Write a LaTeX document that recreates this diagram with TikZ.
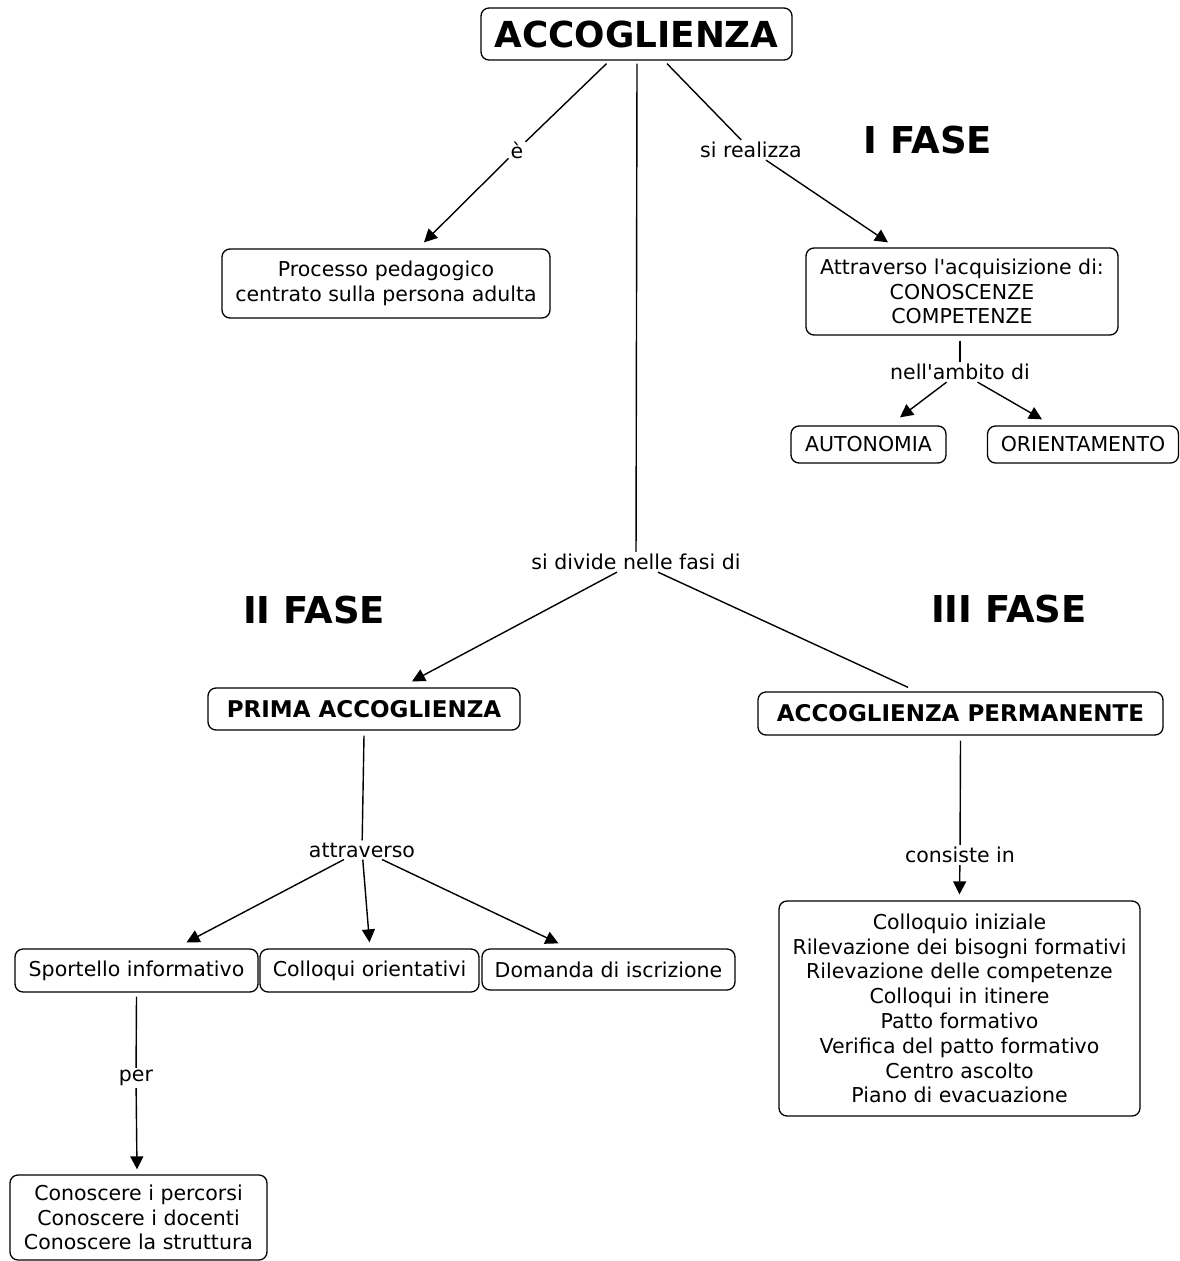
\documentclass[tikz,border=0pt]{standalone}
\usepackage{fontspec}
\setmainfont{DejaVu Sans}
\usetikzlibrary{arrows.meta,calc}
\newcommand\fsreg{\fontsize{20.5}{24.8}\selectfont}
\newcommand\fsbox{\fontsize{23}{27}\selectfont\bfseries}
\newcommand\fstitle{\fontsize{35.8}{40}\selectfont\bfseries}
\newcommand\fsphase{\fontsize{37}{40}\selectfont\bfseries}
\begin{document}
\begin{tikzpicture}[x=1pt,y=-1pt,
  cbox/.style={draw, rounded corners=8pt, line width=1.3pt, inner sep=0pt, align=center, font=\fsreg},
  lbl/.style={inner sep=2pt, font=\fsreg, align=center},
  phase/.style={inner sep=0pt, font=\fsphase},
  conn/.style={line width=1.4pt},
  arr/.style={conn, -{Triangle[length=13pt,width=13pt]}}]
\useasboundingbox (0,0) rectangle (1180,1261);
% boxes
\node[cbox, font=\fstitle, minimum width=311, minimum height=52] (title) at (636.5,34) {ACCOGLIENZA};
\node[cbox, minimum width=328, minimum height=69] (proc) at (386,283.5) {Processo pedagogico\\centrato sulla persona adulta};
\node[cbox, minimum width=312, minimum height=87] (attr) at (962,291.5) {Attraverso l\textquotesingle acquisizione di:\\CONOSCENZE\\COMPETENZE};
\node[cbox, minimum width=155, minimum height=37] (auto) at (868.5,444.5) {AUTONOMIA};
\node[cbox, minimum width=191, minimum height=37] (orient) at (1083,444.5) {ORIENTAMENTO};
\node[cbox, font=\fsbox, minimum width=312, minimum height=42] (prima) at (364,709) {PRIMA ACCOGLIENZA};
\node[cbox, font=\fsbox, minimum width=405, minimum height=43] (perm) at (960.5,713.5) {ACCOGLIENZA PERMANENTE};
\node[cbox, minimum width=243, minimum height=43] (sport) at (136.5,970.5) {Sportello informativo};
\node[cbox, minimum width=219, minimum height=43] (coll) at (369.5,970.5) {Colloqui orientativi};
\node[cbox, minimum width=253, minimum height=41] (dom) at (608.5,969.5) {Domanda di iscrizione};
\node[cbox, minimum width=257, minimum height=85] (conosc) at (138.5,1217.5) {Conoscere i percorsi\\Conoscere i docenti\\Conoscere la struttura};
\node[cbox, minimum width=361, minimum height=215] (big) at (959.5,1008.5) {Colloquio iniziale\\Rilevazione dei bisogni formativi\\Rilevazione delle competenze\\Colloqui in itinere\\Patto formativo\\Verifica del patto formativo\\Centro ascolto\\Piano di evacuazione};
% phases
\node[phase] (f1) at (928,140) {I FASE};
\node[phase] (f2) at (314,610) {II FASE};
\node[phase] (f3) at (1009,609) {III FASE};
% labels
\node[lbl] (lE) at (517,150) {è};
\node[lbl] (lSR) at (751,150) {si realizza};
\node[lbl] (lNA) at (960,372) {nell\textquotesingle ambito di};
\node[lbl] (lSD) at (636,562) {si divide nelle fasi di};
\node[lbl] (lAT) at (362,850) {attraverso};
\node[lbl] (lPER) at (136,1078) {per};
\node[lbl] (lCI) at (960,855) {consiste in};
% connectors
\draw[conn] ($(title.south)+(-30,3)$) -- (lE);
\draw[arr] (lE) -- ($(proc.north)+(38,-6)$);
\draw[conn] ($(title.south)+(30.5,3)$) -- (lSR);
\draw[arr] (lSR) -- ($(attr.north)+(-74,-5)$);
\draw[conn] ($(attr.south)+(-2,5)$) -- (lNA);
\draw[arr] (lNA) -- ($(auto.north)+(31.5,-8)$);
\draw[arr] (lNA) -- ($(orient.north)+(-41,-6)$);
\draw[conn] ($(title.south)+(0.5,3)$) -- (lSD);
\draw[arr] (lSD) -- ($(prima.north)+(48,-6)$);
\draw[conn] (lSD) -- ($(perm.north)+(-52.5,-4)$);
\draw[conn] ($(prima.south)+(0,5)$) -- (lAT);
\draw[arr] (lAT) -- ($(sport.north)+(50,-6)$);
\draw[arr] (lAT) -- ($(coll.north)+(0,-6)$);
\draw[arr] (lAT) -- ($(dom.north)+(-50,-5)$);
\draw[conn] ($(sport.south)+(0,4)$) -- (lPER);
\draw[arr] (lPER) -- ($(conosc.north)+(-1.5,-5)$);
\draw[conn] ($(perm.south)+(0,5)$) -- (lCI);
\draw[arr] (lCI) -- ($(big.north)+(0,-6)$);
\end{tikzpicture}
\end{document}
